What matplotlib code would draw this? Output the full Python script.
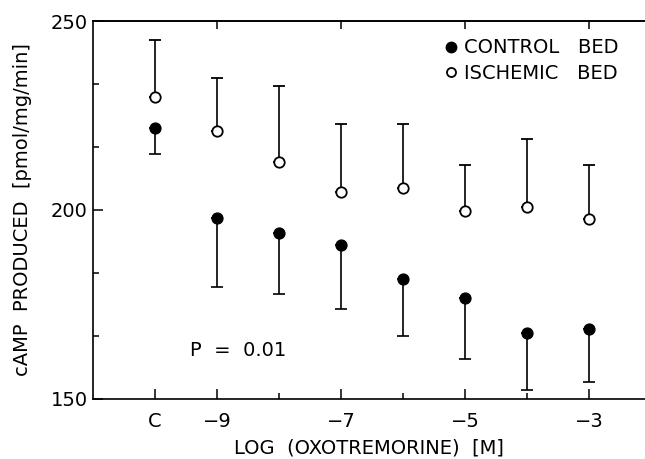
import matplotlib
matplotlib.use("Agg")
import matplotlib.pyplot as plt
from matplotlib.lines import Line2D
from matplotlib.ticker import FixedLocator

# x positions: "C" (control, no drug) placed at -10, then log doses
x_pos = [-10, -9, -8, -7, -6, -5, -4, -3]
tick_pos = [-10, -9, -7, -5, -3]
tick_labels = ["C", "\u22129", "\u22127", "\u22125", "\u22123"]

control_mean = [221.7, 197.7, 193.8, 190.7, 181.6, 176.5, 167.4, 168.4]
control_low = [214.8, 179.6, 177.6, 173.6, 166.6, 160.5, 152.3, 154.3]

ischemic_mean = [229.8, 220.8, 212.7, 204.8, 205.8, 199.7, 200.6, 197.5]
ischemic_high = [245.0, 234.8, 232.9, 222.7, 222.7, 211.8, 218.7, 211.8]

plt.rcParams['font.family'] = ['DejaVu Sans']
FS = 14

fig = plt.figure(figsize=(6.45, 4.59), dpi=100)
ax = fig.add_axes([0.1439, 0.1318, 0.8561, 0.8224])

c_err = [[m - l for m, l in zip(control_mean, control_low)], [0] * len(control_mean)]
i_err = [[0] * len(ischemic_mean), [h - m for m, h in zip(ischemic_mean, ischemic_high)]]

ax.errorbar(x_pos, control_mean, yerr=c_err, fmt='o', color='black', ms=7.8,
            elinewidth=1.2, capsize=4, capthick=1.2, zorder=3)
ax.errorbar(x_pos, ischemic_mean, yerr=i_err, fmt='o', color='black', mfc='white',
            mec='black', mew=1.3, ms=7.5, elinewidth=1.2, capsize=4, capthick=1.2, zorder=3)

ax.set_xlim(-11.0, -2.1)
ax.set_ylim(150, 250)

for s in ['left', 'bottom', 'top']:
    ax.spines[s].set_linewidth(1.2)
ax.spines['right'].set_visible(False)

ax.set_xticks(tick_pos)
ax.set_xticklabels(tick_labels)
ax.xaxis.set_minor_locator(FixedLocator([-8, -6, -4]))
ax.set_yticks([150, 200, 250])
ax.yaxis.set_minor_locator(FixedLocator([150 + 50 / 3, 150 + 100 / 3, 200 + 50 / 3, 200 + 100 / 3]))
ax.tick_params(axis='both', which='major', direction='in', length=7, width=1.1,
               labelsize=FS)
ax.tick_params(axis='x', which='major', pad=10)
ax.tick_params(axis='y', which='major', pad=3.5)
ax.tick_params(axis='both', which='minor', direction='in', length=4.5, width=1.1)

top = ax.secondary_xaxis('top')
top.set_xticks([-9, -7, -5, -3])
top.tick_params(direction='in', length=5.5, width=1.1, labeltop=False)
top.spines['top'].set_linewidth(1.2)

ax.set_xlabel("LOG  (OXOTREMORINE)  [M]", fontsize=FS, labelpad=5)
ax.set_ylabel("cAMP  PRODUCED  [pmol/mg/min]", fontsize=FS)
ax.yaxis.set_label_coords(-0.11, 0.5)

ax.text(-9.43, 162.7, "P  =  0.01", fontsize=FS, ha='left', va='center')

handles = [Line2D([], [], marker='o', ls='none', color='black', ms=7.5),
           Line2D([], [], marker='o', ls='none', mfc='white', mec='black', mew=1.3, ms=6.5)]
ax.legend(handles, ["CONTROL   BED", "ISCHEMIC   BED"], loc='upper left',
          bbox_to_anchor=(0.614, 0.99), frameon=False, fontsize=FS,
          handlelength=0.6, handletextpad=0.35, labelspacing=0.35, borderpad=0.2)

fig.savefig("out.png", dpi=100)
